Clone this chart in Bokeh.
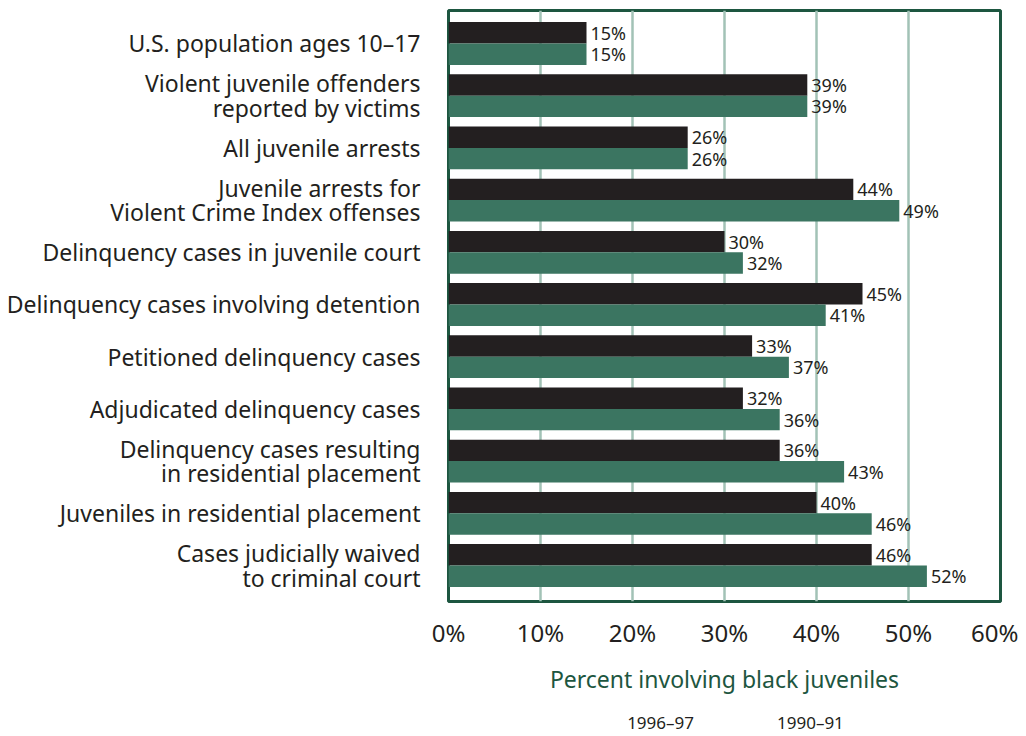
from bokeh.plotting import figure
from bokeh.layouts import column
from bokeh.models import (Range1d, FixedTicker, Legend, LegendItem, ColumnDataSource)
from bokeh.core.properties import value
from bokeh.embed import file_html
from bokeh.resources import INLINE

categories = [
    "U.S. population ages 10\u201317",
    "Violent juvenile offenders\nreported by victims",
    "All juvenile arrests",
    "Juvenile arrests for\nViolent Crime Index offenses",
    "Delinquency cases in juvenile court",
    "Delinquency cases involving detention",
    "Petitioned delinquency cases",
    "Adjudicated delinquency cases",
    "Delinquency cases resulting\nin residential placement",
    "Juveniles in residential placement",
    "Cases judicially waived\nto criminal court",
]
series_names = ["1996\u201397", "1990\u201391"]
values_9697 = [15, 39, 26, 44, 30, 45, 33, 32, 36, 40, 46]
values_9091 = [15, 39, 26, 49, 32, 41, 37, 36, 43, 46, 52]
x_ticks = [0, 10, 20, 30, 40, 50, 60]

FONT = "Noto Sans"
BLACK = "#231f20"
GREEN = "#3b7561"
DARKGREEN = "#1d5640"
GRID = "#a2c2b6"

n = len(categories)
idx = list(range(n))
bar_h = 0.41

p = figure(frame_width=552, frame_height=591, output_backend="svg", toolbar_location=None,
           x_range=Range1d(0, 60), y_range=Range1d(n - 0.31, -0.632),
           min_border_left=448, min_border_top=10, min_border_right=18, min_border_bottom=0)

src1 = ColumnDataSource(dict(y=[i - bar_h / 2 for i in idx], v=values_9697,
                             t=[f"{v}%" for v in values_9697]))
src2 = ColumnDataSource(dict(y=[i + bar_h / 2 for i in idx], v=values_9091,
                             t=[f"{v}%" for v in values_9091]))

p.hbar(y="y", right="v", left=0, height=bar_h, source=src1, fill_color=BLACK, line_color=None)
p.hbar(y="y", right="v", left=0, height=bar_h, source=src2, fill_color=GREEN, line_color=None)

for s in (src1, src2):
    p.text(x="v", y="y", text="t", source=s, x_offset=4, text_baseline="middle", text_align="left",
           text_font=value(FONT), text_font_size="18px", text_color=BLACK)

p.outline_line_color = DARKGREEN
p.outline_line_width = 3
p.outline_line_alpha = 1

p.ygrid.grid_line_color = None
p.xgrid.grid_line_color = GRID
p.xgrid.grid_line_width = 2.5
p.xgrid.ticker = FixedTicker(ticks=x_ticks)

xa = p.xaxis[0]
xa.ticker = FixedTicker(ticks=x_ticks)
xa.major_label_overrides = {t: f"{t}%" for t in x_ticks}
xa.axis_line_color = None
xa.major_tick_line_color = None
xa.minor_tick_line_color = None
xa.major_tick_out = 0
xa.major_label_text_font = FONT
xa.major_label_text_font_size = "24px"
xa.major_label_text_color = BLACK
xa.major_label_standoff = 14
xa.axis_label = "Percent involving black juveniles"
xa.axis_label_text_font = FONT
xa.axis_label_text_font_size = "23px"
xa.axis_label_text_font_style = "normal"
xa.axis_label_text_color = DARKGREEN
xa.axis_label_standoff = 11

ya = p.yaxis[0]
ya.ticker = FixedTicker(ticks=idx)
ya.major_label_overrides = {i: c for i, c in zip(idx, categories)}
ya.axis_line_color = None
ya.major_tick_line_color = None
ya.minor_tick_line_color = None
ya.major_label_text_font = FONT
ya.major_label_text_font_size = "23px"
ya.major_label_text_line_height = 0.77
ya.major_label_text_color = BLACK
ya.major_label_standoff = 22
ya.major_label_text_align = "right"

# legend strip underneath the chart, its frame centred under the chart frame
p2 = figure(width=1018, height=37, output_backend="svg", toolbar_location=None,
            x_axis_location=None, y_axis_location=None,
            min_border_left=432, min_border_right=0, min_border_top=0, min_border_bottom=0,
            x_range=Range1d(0, 1), y_range=Range1d(0, 1))
p2.outline_line_color = None
p2.grid.grid_line_color = None
e = dict(left=[], right=[], top=[], bottom=[])
k1 = p2.quad(source=ColumnDataSource(e), left="left", right="right", top="top", bottom="bottom",
             fill_color=BLACK, line_color=None)
k2 = p2.quad(source=ColumnDataSource(dict(e)), left="left", right="right", top="top", bottom="bottom",
             fill_color=GREEN, line_color=None)

legend = Legend(items=[LegendItem(label=series_names[0], renderers=[k1]),
                       LegendItem(label=series_names[1], renderers=[k2])],
                orientation="horizontal", location="bottom_center")
legend.label_text_font = FONT
legend.label_text_font_size = "17px"
legend.label_text_color = BLACK
legend.glyph_width = 13
legend.glyph_height = 13
legend.label_standoff = 10
legend.spacing = 60
legend.border_line_color = None
legend.background_fill_alpha = 0
legend.margin = 0
legend.padding = 0
legend.label_height = 18
p2.add_layout(legend, "center")

layout = column(p, p2)
open("out.html", "w").write(file_html(layout, INLINE))
